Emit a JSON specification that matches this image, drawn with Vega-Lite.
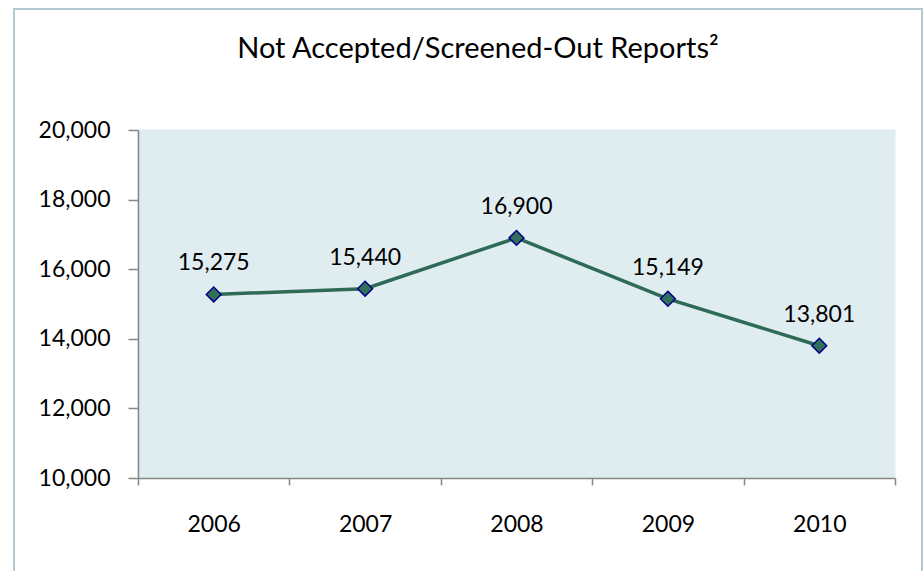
{
  "$schema": "https://vega.github.io/schema/vega-lite/v6.json",
  "autosize": "none",
  "width": 908,
  "height": 570,
  "padding": {"left": 14, "top": 9, "right": 1, "bottom": 0},
  "background": "white",
  "config": {
    "view": {"stroke": "#B3C9CF", "strokeWidth": 2},
    "font": "Lato"
  },
  "title": {
    "text": "Not Accepted/Screened-Out Reports²",
    "font": "Lato",
    "fontSize": 29,
    "fontWeight": "normal",
    "color": "#000000",
    "anchor": "middle",
    "baseline": "alphabetic",
    "offset": -78,
    "dx": 10
  },
  "data": {
    "values": [
      {"year": "2006", "value": 15275},
      {"year": "2007", "value": 15440},
      {"year": "2008", "value": 16900},
      {"year": "2009", "value": 15149},
      {"year": "2010", "value": 13801}
    ]
  },
  "encoding": {
    "x": {
      "field": "year",
      "type": "ordinal",
      "scale": {"type": "band", "range": [124, 881], "paddingInner": 0, "paddingOuter": 0},
      "axis": {
        "title": null,
        "grid": false,
        "zindex": 1,
        "offset": -101,
        "labelAngle": 0,
        "tickBand": "extent",
        "tickSize": 7,
        "tickWidth": 1.5,
        "tickColor": "#878787",
        "domainColor": "#878787",
        "domainWidth": 1.5,
        "labelPadding": 46,
        "labelBaseline": "alphabetic",
        "labelFont": "Lato",
        "labelFontSize": 23,
        "labelColor": "#000000"
      }
    }
  },
  "layer": [
    {
      "mark": {"type": "rect", "fill": "#DFEDF1", "stroke": "#DFEDF1", "strokeWidth": 1},
      "encoding": {
        "y": {
          "datum": 10000,
          "type": "quantitative",
          "scale": {"domain": [10000, 20000], "range": [469, 121], "nice": false, "zero": false},
          "axis": {
            "title": null,
            "grid": false,
            "zindex": 1,
            "offset": -124,
            "values": [10000, 12000, 14000, 16000, 18000, 20000],
            "labelExpr": "format(datum.value, ',')",
            "tickSize": 10,
            "tickWidth": 1.5,
            "tickColor": "#878787",
            "domainColor": "#878787",
            "domainWidth": 1.5,
            "labelPadding": 18,
            "labelFont": "Lato",
            "labelFontSize": 23,
            "labelColor": "#000000"
          }
        },
        "y2": {"datum": 20000}
      }
    },
    {
      "mark": {"type": "line", "color": "#2E6B57", "strokeWidth": 3.5},
      "encoding": {"y": {"field": "value", "type": "quantitative"}}
    },
    {
      "mark": {"type": "point", "shape": "diamond", "filled": true, "fill": "#32705A", "stroke": "#000088", "strokeWidth": 1.5, "size": 220, "opacity": 1},
      "encoding": {"y": {"field": "value", "type": "quantitative"}}
    },
    {
      "mark": {"type": "text", "dy": -24, "baseline": "alphabetic", "fontSize": 23, "font": "Lato", "color": "#000000"},
      "encoding": {
        "y": {"field": "value", "type": "quantitative"},
        "text": {"field": "value", "type": "quantitative", "format": ","}
      }
    }
  ]
}
